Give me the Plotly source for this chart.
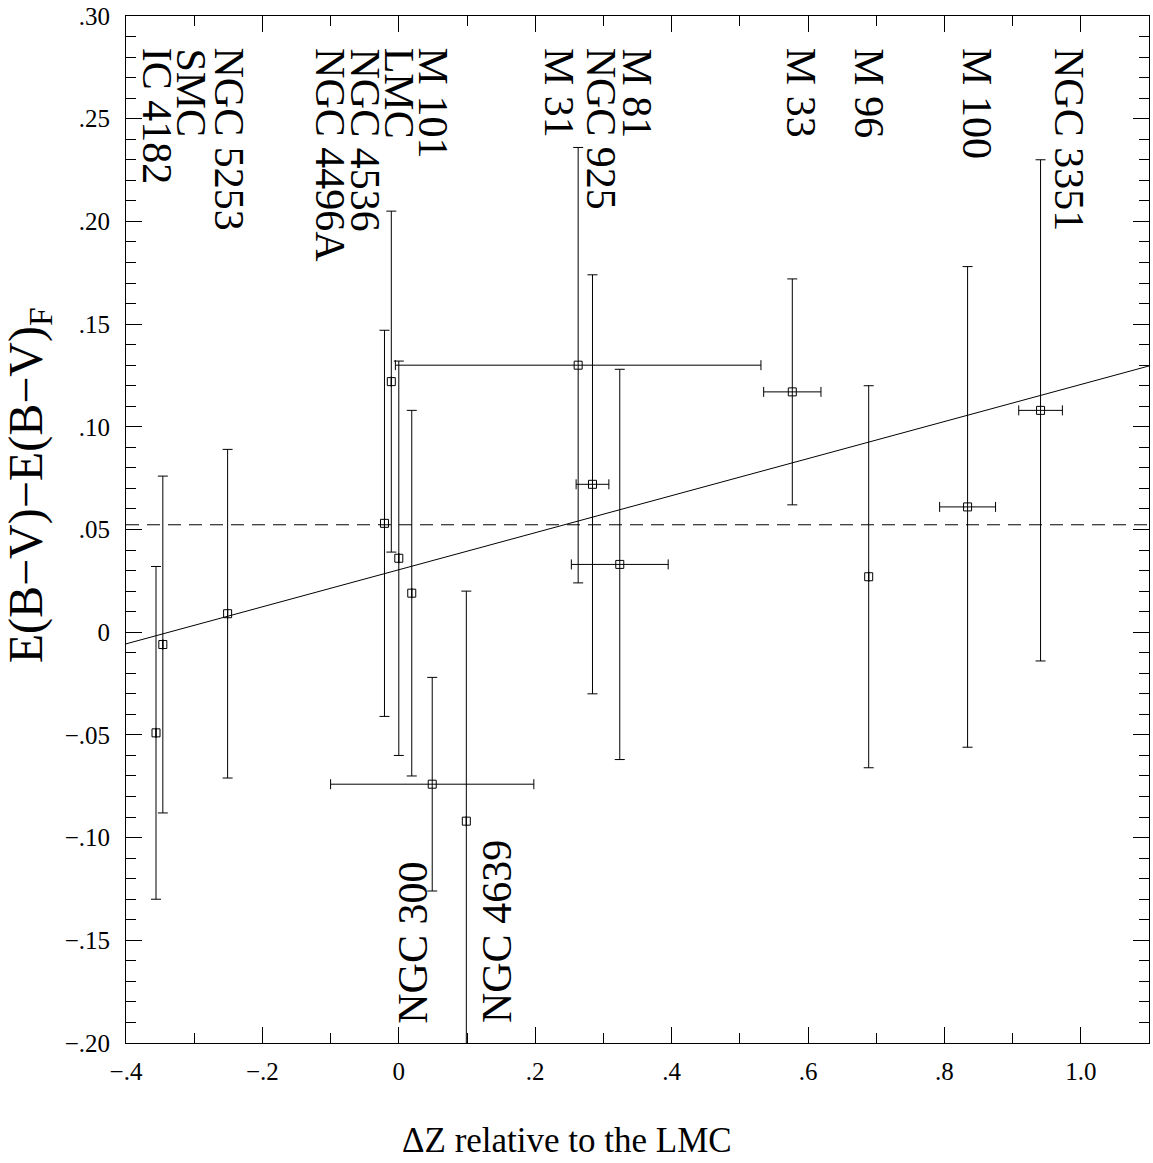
import plotly.graph_objects as go

# ---------------- data ----------------
galaxies = ["IC 4182", "SMC", "NGC 5253", "NGC 4496A", "NGC 4536", "LMC", "M 101",
            "NGC 300", "NGC 4639", "M 31", "NGC 925", "M 81", "M 33", "M 96",
            "M 100", "NGC 3351"]
delta_z = [-0.356, -0.346, -0.251, -0.021, -0.011, 0.000, 0.019,
           0.049, 0.099, 0.263, 0.284, 0.324, 0.577, 0.689, 0.834, 0.941]
delta_z_err = [None, None, None, None, None, None, None,
               0.149, None, 0.268, 0.024, 0.071, 0.042, None, 0.041, 0.032]
d_ebv = [-0.049, -0.006, 0.009, 0.053, 0.122, 0.036, 0.019,
         -0.074, -0.092, 0.130, 0.072, 0.033, 0.117, 0.027, 0.061, 0.108]
d_ebv_err = [0.081, 0.082, 0.080, 0.094, 0.083, 0.096, 0.089,
             0.052, 0.112, 0.106, 0.102, 0.095, 0.055, 0.093, 0.117, 0.122]

fit_intercept = 0.0304
fit_slope = 0.0902
mean_offset = 0.0523

x_tickvals = [-0.4, -0.2, 0.0, 0.2, 0.4, 0.6, 0.8, 1.0]
x_ticktext = ["\u2212.4", "\u2212.2", "0", ".2", ".4", ".6", ".8", "1.0"]
y_tickvals = [0.30, 0.25, 0.20, 0.15, 0.10, 0.05, 0.0, -0.05, -0.10, -0.15, -0.20]
y_ticktext = [".30", ".25", ".20", ".15", ".10", ".05", "0",
              "\u2212.05", "\u2212.10", "\u2212.15", "\u2212.20"]

# label layout (text placement, not data)
top_labels = ["IC 4182", "SMC", "NGC 5253", "NGC 4496A", "NGC 4536", "LMC", "M 101",
              "M 31", "NGC 925", "M 81", "M 33", "M 96", "M 100", "NGC 3351"]
top_label_x = [-0.355, -0.306, -0.249, -0.101, -0.051, 0.000, 0.050,
               0.235, 0.297, 0.350, 0.590, 0.689, 0.847, 0.982]
bottom_labels = ["NGC 300", "NGC 4639"]
bottom_label_x = [0.0196, 0.144]

X_RANGE = [-0.4, 1.1]
Y_RANGE = [-0.2, 0.3]
FONT = "Liberation Serif"

fig = go.Figure()

# fitted line
fig.add_trace(go.Scatter(
    x=X_RANGE, y=[fit_intercept + fit_slope * v for v in X_RANGE],
    mode="lines", line=dict(color="black", width=1), hoverinfo="skip",
    showlegend=False))

# mean offset (dashed)
fig.add_trace(go.Scatter(
    x=X_RANGE, y=[mean_offset, mean_offset],
    mode="lines", line=dict(color="black", width=1, dash="13px,8px"),
    hoverinfo="skip", showlegend=False))

# data points with error bars
fig.add_trace(go.Scatter(
    x=delta_z, y=d_ebv, mode="markers", text=galaxies,
    marker=dict(symbol="square-open", size=8, color="black",
                line=dict(color="black", width=1)),
    error_y=dict(type="data", array=d_ebv_err, visible=True,
                 color="black", thickness=1, width=5),
    error_x=dict(type="data", array=delta_z_err, visible=True,
                 color="black", thickness=1, width=5),
    showlegend=False))

annotations = []
for name, lx in zip(top_labels, top_label_x):
    annotations.append(dict(
        x=lx, y=0.2854, xref="x", yref="y", text=name, showarrow=False,
        textangle=90, xanchor="center", yanchor="top",
        font=dict(family=FONT, size=42, color="black")))
for name, lx in zip(bottom_labels, bottom_label_x):
    annotations.append(dict(
        x=lx, y=-0.1915, xref="x", yref="y", text=name, showarrow=False,
        textangle=-90, xanchor="center", yanchor="bottom",
        font=dict(family=FONT, size=42, color="black")))

# axis titles
annotations.append(dict(
    x=(567 - 126) / 1024, y=(1043 - 1141) / 1031, xref="paper", yref="paper",
    text="\u0394Z relative to the LMC", showarrow=False,
    xanchor="center", yanchor="middle",
    font=dict(family=FONT, size=35, color="black")))
annotations.append(dict(
    x=(29 - 126) / 1024, y=(1043 - 483) / 1031, xref="paper", yref="paper",
    text="E(B\u2212V)\u2212E(B\u2212V)<sub>F</sub>", showarrow=False,
    textangle=-90, xanchor="center", yanchor="middle",
    font=dict(family=FONT, size=48, color="black")))

axis_common = dict(
    showline=True, linecolor="black", linewidth=1, mirror="ticks",
    ticks="inside", ticklen=16, tickwidth=1, tickcolor="black",
    showgrid=False, zeroline=False, ticklabeloverflow="allow",
    tickfont=dict(family=FONT, size=25, color="black"),
)

fig.update_layout(
    width=1153, height=1163,
    margin=dict(l=126, r=3, t=12, b=120),
    paper_bgcolor="white", plot_bgcolor="white",
    xaxis=dict(range=X_RANGE, tickmode="array", tickvals=x_tickvals,
               ticktext=x_ticktext, ticklabelstandoff=6,
               minor=dict(dtick=0.1, tick0=0, ticks="inside", ticklen=10,
                          tickwidth=1, tickcolor="black", showgrid=False),
               **axis_common),
    yaxis=dict(range=Y_RANGE, tickmode="array", tickvals=y_tickvals,
               ticktext=y_ticktext, ticklabelstandoff=10,
               minor=dict(dtick=0.01, tick0=0, ticks="inside", ticklen=10,
                          tickwidth=1, tickcolor="black", showgrid=False),
               **axis_common),
    annotations=annotations,
    showlegend=False,
)

fig.write_html("out.html")
